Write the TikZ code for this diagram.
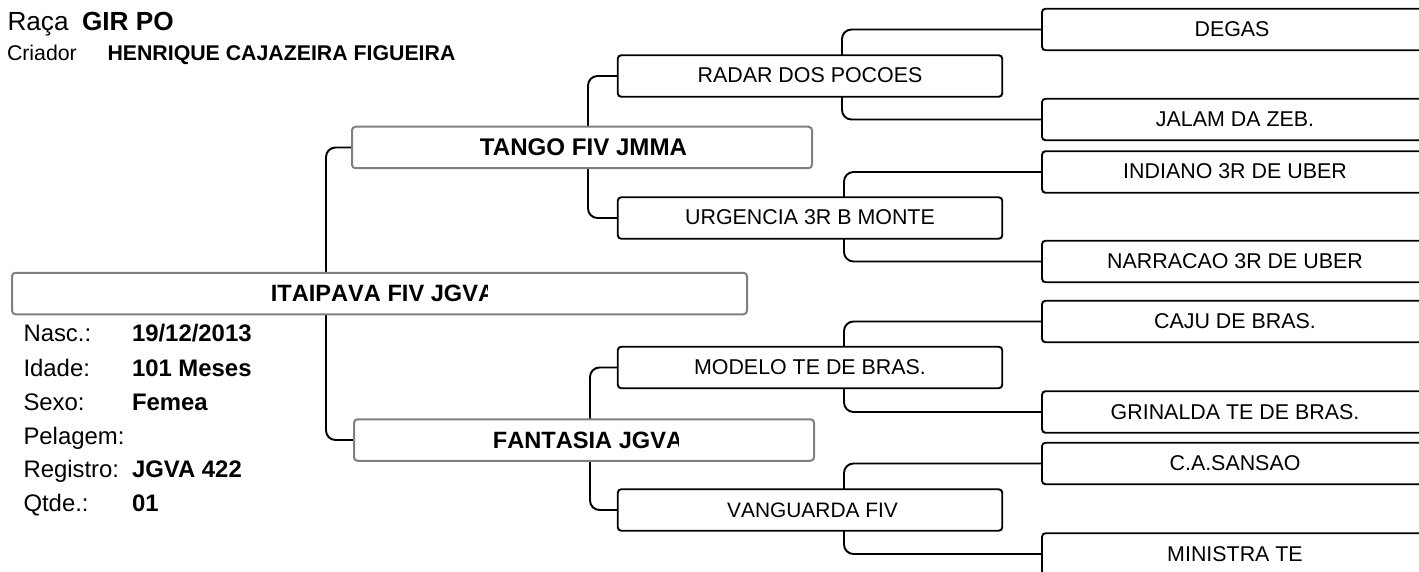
\documentclass[tikz,border=0pt]{standalone}
\usepackage{fontspec}
\setmainfont{Liberation Sans}
\newfontfamily\nokernfont[Kerning=Off]{Liberation Sans}
\usetikzlibrary{backgrounds}
\tikzset{
  every node/.style={inner sep=0pt,outer sep=0pt},
  pedbox/.style={draw=black,line width=1.9pt,fill=white,rounded corners=3.5pt,minimum height=41.5pt,
    font=\fontsize{21.4}{25}\selectfont,text height=16pt,text depth=2pt,align=center},
  midbox/.style={pedbox,minimum width=384.5pt},
  leafbox/.style={pedbox,minimum width=386pt},
  topbox/.style={pedbox,draw=black!50,line width=2pt,font=\fontsize{24.1}{28}\selectfont\bfseries,text height=18pt,text depth=2pt},
  toplabel/.style={font=\fontsize{23.6}{28}\selectfont\nokernfont\bfseries,text height=18pt,text depth=2pt},
  midlabel/.style={font=\fontsize{20.9}{25}\selectfont\nokernfont,text height=16pt,text depth=2pt},
  conn/.style={draw=black,line width=1.9pt,rounded corners=9.5pt},
  lab/.style={anchor=base west,font=\fontsize{23.9}{28}\selectfont},
  val/.style={anchor=base west,font=\fontsize{23.9}{28}\selectfont\bfseries},
  small/.style={anchor=base west,font=\fontsize{21.3}{25}\selectfont},
  smallb/.style={anchor=base west,font=\fontsize{21.3}{25}\selectfont\bfseries},
  big/.style={anchor=base west,font=\fontsize{26.2}{30}\selectfont},
  bigb/.style={anchor=base west,font=\fontsize{26.2}{30}\selectfont\bfseries},
}
\begin{document}
\begin{tikzpicture}[x=1pt,y=-1pt]
\useasboundingbox (0,0) rectangle (1419,572);
\clip (0,0) rectangle (1419,572);
% header
\node[big] (raca) at (7.5,31) {Raça};
\node[bigb] (raza) at (82,31) {GIR PO};
\node[small] (cri) at (7,61) {Criador};
\node[smallb] (crin) at (107.5,61) {HENRIQUE CAJAZEIRA FIGUEIRA};
% info
\node[lab] (l1) at (23.5,341) {Nasc.:};
\node[val] (v1) at (132,341) {19/12/2013};
\node[lab] (l2) at (23.5,376) {Idade:};
\node[val] (v2) at (132,376) {101 Meses};
\node[lab] (l3) at (23.5,410) {Sexo:};
\node[val] (v3) at (132,410) {Femea};
\node[lab] (l4) at (23.5,444) {Pelagem:};
\node[lab] (l5) at (23.5,477) {Registro:};
\node[val] (v5) at (132,477) {JGVA 422};
\node[lab] (l6) at (23.5,511) {Qtde.:};
\node[val] (v6) at (132,511) {01};
% first levels
\node[topbox,minimum width=735pt] (root) at (379.5,293.5) {};
\node[topbox,minimum width=460pt] (tango) at (582,147.5) {\hspace*{3pt}TANGO FIV JMMA};
\node[topbox,minimum width=460pt] (fant) at (584,440) {};
% second level
\node[midbox] (radar) at (810,76) {RADAR DOS POCOES};
\node[midbox] (urg) at (810,218) {URGENCIA 3R B MONTE};
\node[midbox] (mod) at (810,367.5) {MODELO TE DE BRAS.};
\node[midbox] (van) at (810,510) {};
% leaves
\node[leafbox] (degas) at (1235,29.5) {\hspace*{-6pt}DEGAS};
\node[leafbox] (jalam) at (1235,119.5) {JALAM DA ZEB.};
\node[leafbox] (ind) at (1235,172) {INDIANO 3R DE UBER};
\node[leafbox] (nar) at (1235,261.5) {NARRACAO 3R DE UBER};
\node[leafbox] (caju) at (1235,321.5) {CAJU DE BRAS.};
\node[leafbox] (gri) at (1235,412) {GRINALDA TE DE BRAS.};
\node[leafbox] (san) at (1235,463.5) {C.A.SANSAO};
\node[leafbox] (min) at (1235,554) {MINISTRA TE};
% clipped labels
\begin{scope}
\clip (200,275) rectangle (487.5,312);
\node[toplabel] (rootl) at (383,293.5) {ITAIPAVA FIV JGVA};
\end{scope}
\begin{scope}
\clip (400,421) rectangle (678,459);
\node[toplabel] (fantl) at (588,440) {FANTASIA JGVA};
\end{scope}
\begin{scope}
\clip (650,491) rectangle (897,529);
\node[midlabel] (vanl) at (812.5,510) {VANGUARDA FIV};
\end{scope}
% connector guide points
\coordinate (c0) at (326,293);
\coordinate (c1) at (588,147);
\coordinate (c2) at (590,440);
\coordinate (c3) at (842,76);
\coordinate (c4) at (844,218);
\coordinate (c5) at (844,367);
\coordinate (c6) at (844,510);
\begin{scope}[on background layer]
\draw[conn] (tango.west) -| (c0) |- (fant.west);
\draw[conn] (radar.west) -| (c1) |- (urg.west);
\draw[conn] (mod.west) -| (c2) |- (van.west);
\draw[conn] (degas.west) -| (c3) |- (jalam.west);
\draw[conn] (ind.west) -| (c4) |- (nar.west);
\draw[conn] (caju.west) -| (c5) |- (gri.west);
\draw[conn] (san.west) -| (c6) |- (min.west);
\end{scope}
\end{tikzpicture}
\end{document}
